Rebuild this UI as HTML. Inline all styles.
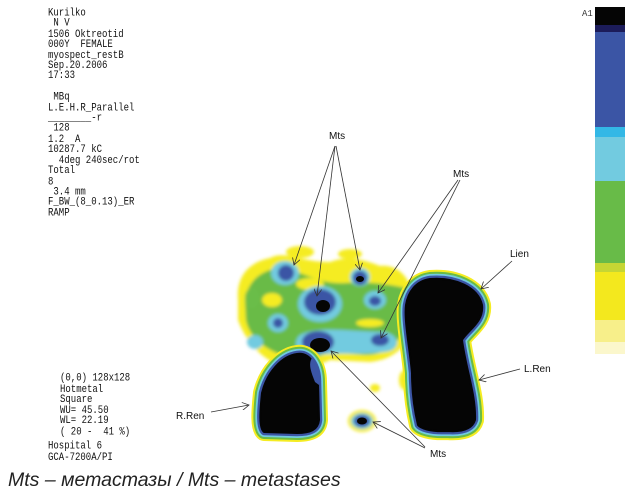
<!DOCTYPE html>
<html><head><meta charset="utf-8"><style>
html,body{margin:0;padding:0;background:#fff;width:634px;height:492px;overflow:hidden}
.t{position:absolute;font-family:"Liberation Mono",monospace;font-size:9px;line-height:8.4px;white-space:pre;color:#111;transform:scaleY(1.25);transform-origin:0 0}
.cap{position:absolute;left:8px;top:469px;font-family:"Liberation Sans","DejaVu Sans",sans-serif;font-style:italic;font-size:19.5px;color:#222;letter-spacing:0px}
svg{position:absolute;left:0;top:0}
</style></head><body>
<svg width="634" height="492" viewBox="0 0 634 492">
<defs>
<filter id="b" x="-20%" y="-20%" width="140%" height="140%"><feGaussianBlur stdDeviation="1.5"/></filter>
<marker id="a" markerWidth="8" markerHeight="8" refX="7" refY="4" orient="auto" markerUnits="userSpaceOnUse"><path d="M0,0 L7,4 L0,8" fill="none" stroke="#333" stroke-width="0.8"/></marker>
<path id="sp" d="M430,279 C455,277 478,287 482,305 C484,322 468,330 462,340 C466,370 476,395 475,420 C472,430 460,432 447,431 C430,432 420,428 418,425 C412,400 412,380 412,373 C410,350 404,320 406,305 C408,292 416,281 430,279 Z"/>
<path id="rk" d="M297,354 C310,352 318,366 318,382 L319,420 C318,430 310,433 297,433 L264,432 C259,428 260,412 262,393 C267,372 282,356 297,354 Z"/>
</defs>
<rect x="595" y="7" width="30" height="18" fill="#050505"/>
<rect x="595" y="25" width="30" height="7" fill="#1c1c5a"/>
<rect x="595" y="32" width="30" height="95" fill="#3b55a5"/>
<rect x="595" y="127" width="30" height="10" fill="#33b8e6"/>
<rect x="595" y="137" width="30" height="44" fill="#72cbe0"/>
<rect x="595" y="181" width="30" height="82" fill="#68bb48"/>
<rect x="595" y="263" width="30" height="9" fill="#c5d634"/>
<rect x="595" y="272" width="30" height="48" fill="#f3e81e"/>
<rect x="595" y="320" width="30" height="22" fill="#f7ef8a"/>
<rect x="595" y="342" width="30" height="12" fill="#fbf7cc"/>
<g filter="url(#b)">
<path d="M238,300 C236,275 250,262 270,258 C285,250 300,262 330,262 C345,256 360,258 380,266 C395,264 410,275 412,295 L412,330 C405,350 390,360 370,362 L330,360 C310,370 300,365 290,362 L280,365 C262,360 245,340 238,320 Z" fill="#f5ec22"/>
<ellipse cx="350" cy="254" rx="12" ry="5" fill="#f5ec22"/>
<ellipse cx="300" cy="252" rx="14" ry="6" fill="#f5ec22"/>
<ellipse cx="405" cy="380" rx="6" ry="10" fill="#f5ec22"/>
<ellipse cx="375" cy="388" rx="5" ry="4" fill="#f5ec22"/>
<path d="M245,300 C248,280 262,270 280,268 C300,270 320,285 345,283 C365,282 385,283 405,288 L408,320 C400,345 385,355 365,355 L330,352 C312,360 300,360 290,358 C270,352 250,340 246,320 Z" fill="#69bb46"/>
<ellipse cx="252" cy="298" rx="7" ry="10" fill="#6abd4a"/>
<ellipse cx="300" cy="360" rx="18" ry="20" fill="#69bb46"/>
<ellipse cx="272" cy="300" rx="10" ry="7" fill="#f5ec22"/>
<ellipse cx="310" cy="284" rx="14" ry="6" fill="#f5ec22"/>
<ellipse cx="370" cy="323" rx="14" ry="4" fill="#f5ec22"/>
<ellipse cx="285" cy="273" rx="14" ry="12" fill="#72cbe0"/>
<ellipse cx="320" cy="304" rx="22" ry="18" fill="#72cbe0"/>
<ellipse cx="375" cy="300" rx="11" ry="9" fill="#72cbe0"/>
<ellipse cx="278" cy="323" rx="10" ry="9" fill="#72cbe0"/>
<ellipse cx="255" cy="342" rx="8" ry="7" fill="#72cbe0"/>
<path d="M300,335 C320,325 350,332 385,332 C400,335 402,350 385,352 C360,355 330,352 310,356 C296,356 292,342 300,335 Z" fill="#72cbe0"/>
<ellipse cx="360" cy="277" rx="10" ry="9" fill="#72cbe0"/>
<ellipse cx="362" cy="421" rx="14" ry="11" fill="#f5ec22"/>
<ellipse cx="362" cy="421" rx="11" ry="8" fill="#72cbe0"/>
<ellipse cx="286" cy="273" rx="8" ry="8" fill="#3b55a5"/>
<ellipse cx="320" cy="302" rx="16" ry="13" fill="#3b55a5"/>
<ellipse cx="375" cy="301" rx="6" ry="5" fill="#3b55a5"/>
<ellipse cx="380" cy="340" rx="9" ry="6" fill="#3b55a5"/>
<ellipse cx="278" cy="323" rx="5" ry="5" fill="#3b55a5"/>
<ellipse cx="318" cy="342" rx="16" ry="11" fill="#3b55a5"/>
<ellipse cx="360" cy="278" rx="7" ry="7" fill="#3b55a5"/>
<ellipse cx="362" cy="421" rx="8" ry="6" fill="#3b55a5"/>
<ellipse cx="318" cy="390" rx="5" ry="25" fill="#69bb46"/>
</g>
<ellipse cx="323" cy="306" rx="7" ry="6" fill="#050505"/>
<ellipse cx="320" cy="345" rx="10" ry="7" fill="#050505"/>
<ellipse cx="360" cy="279" rx="4" ry="3" fill="#050505"/>
<ellipse cx="362" cy="421" rx="5" ry="3.5" fill="#050505"/>
<g stroke-linejoin="round">
<use href="#sp" fill="#050505" stroke="#f5ec22" stroke-width="18"/>
<use href="#sp" fill="#050505" stroke="#69bb46" stroke-width="14"/>
<use href="#sp" fill="#050505" stroke="#72cbe0" stroke-width="10"/>
<use href="#sp" fill="#050505" stroke="#3b55a5" stroke-width="6.5"/>
<use href="#sp" fill="#050505" stroke="#050505" stroke-width="2"/>
<use href="#rk" fill="#050505" stroke="#f5ec22" stroke-width="18"/>
<use href="#rk" fill="#050505" stroke="#69bb46" stroke-width="14"/>
<use href="#rk" fill="#050505" stroke="#72cbe0" stroke-width="10"/>
<use href="#rk" fill="#050505" stroke="#3b55a5" stroke-width="6.5"/>
<use href="#rk" fill="#050505" stroke="#050505" stroke-width="2"/>
</g>
<path d="M312,358 C318,364 321,372 319,385 L315,382 C311,372 308,364 312,358 Z" fill="#3b55a5"/>
<g stroke="#333" stroke-width="0.8" fill="none" marker-end="url(#a)">
<line x1="335" y1="146" x2="294" y2="265"/>
<line x1="335" y1="146" x2="317" y2="296"/>
<line x1="336" y1="146" x2="360" y2="270"/>
<line x1="458" y1="180" x2="378" y2="293"/>
<line x1="460" y1="180" x2="381" y2="338"/>
<line x1="512" y1="261" x2="481" y2="289"/>
<line x1="520" y1="369" x2="479" y2="380"/>
<line x1="211" y1="412" x2="249" y2="405"/>
<line x1="425" y1="447" x2="331" y2="351"/>
<line x1="425" y1="448" x2="373" y2="422"/>
</g>
<g font-family="Liberation Sans, sans-serif" font-size="10" fill="#111">
<text x="329" y="139">Mts</text>
<text x="453" y="177">Mts</text>
<text x="510" y="257">Lien</text>
<text x="524" y="372">L.Ren</text>
<text x="176" y="419">R.Ren</text>
<text x="430" y="457">Mts</text>
</g>
<text x="582" y="16" font-family="Liberation Mono, monospace" font-size="9" fill="#333">A1</text>
</svg>
<div class="t" style="left:48px;top:8px">Kurilko
 N V
1506 Oktreotid
000Y  FEMALE
myospect_restB
Sep.20.2006
17:33

 MBq
L.E.H.R_Parallel
________-r
 128
1.2  A
10287.7 kC
  4deg 240sec/rot
Total
8
 3.4 mm
F_BW_(8_0.13)_ER
RAMP</div>
<div class="t" style="left:60px;top:373px;line-height:8.6px">(0,0) 128x128
Hotmetal
Square
WU= 45.50
WL= 22.19
( 20 -  41 %)</div>
<div class="t" style="left:48px;top:441px;line-height:8.6px">Hospital 6
GCA-7200A/PI</div>
<div class="cap">Mts – метастазы / Mts – metastases</div>
</body></html>
